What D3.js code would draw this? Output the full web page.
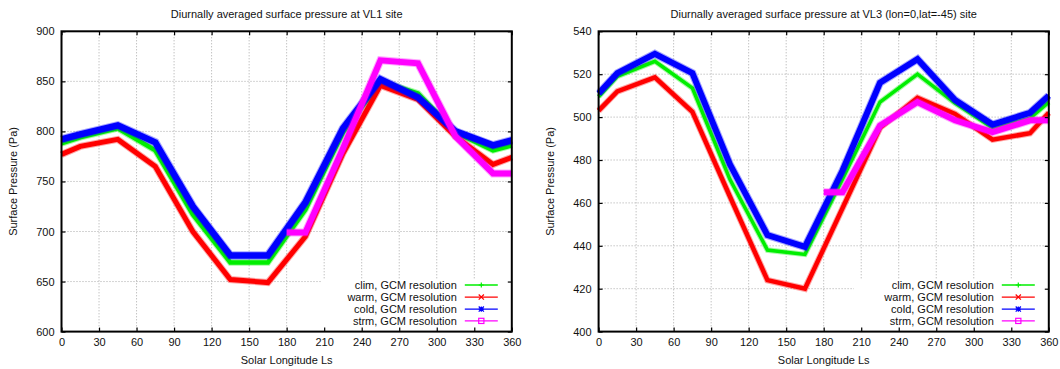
<!DOCTYPE html>
<html>
<head>
<meta charset="utf-8">
<script src="https://cdn.jsdelivr.net/npm/d3@7"></script>
<style>
  body { margin: 0; background: #fff; }
  svg { display: block; }
  text { font-family: "Liberation Sans", Arial, sans-serif; font-size: 11px; fill: #111; }
</style>
</head>
<body>
<div id="chart"></div>
<script>
// Diurnally averaged surface pressure, two Viking lander sites

////////////////////////////////////////////////////////////////////////////////
// Data
const ls = [0, 15, 45, 75, 105, 135, 165, 195, 225, 255, 285, 315, 345, 360];
const strmLs = [180, 195, 225, 255, 285, 315, 345, 360];

const vl1Clim = [788, 794, 803, 781, 717, 669, 669, 722, 799, 850, 838, 799, 781, 786];
const vl1Warm = [777, 785, 792, 765, 700, 652, 649, 695, 778, 846, 832, 795, 767, 774];
const vl1Cold = [792, 797, 806, 789, 725, 676, 676, 729, 803, 852, 834, 800, 786, 791];
const vl1Strm = [699, 699, 783, 871, 868, 795, 758, 758];

const vl3Clim = [509.5, 519, 526, 513.5, 471, 438, 436, 471, 507, 520, 506.5, 495, 499.5, 507];
const vl3Warm = [503, 512, 518.5, 502.5, 463, 424, 420, 457.5, 495, 509, 501.5, 489.5, 492.5, 502];
const vl3Cold = [511, 520.5, 529.5, 520.5, 478, 445, 439.5, 475, 516, 527, 508, 496.5, 502, 510];
const vl3Strm = [465, 465, 496, 507, 498.5, 493, 498.5, 498.5];

const xTicks = d3.range(0, 361, 30);
const vl1Ticks = d3.range(600, 901, 50);
const vl3Ticks = d3.range(400, 541, 20);

const seriesNames = ['clim, GCM resolution', 'warm, GCM resolution', 'cold, GCM resolution', 'strm, GCM resolution'];
const seriesColors = ['#00ee00', '#ff0000', '#0000ff', '#ff00ff'];
const seriesWidths = [[4.5, 5, 6.5, 6], [3.5, 4.5, 6, 6]];

////////////////////////////////////////////////////////////////////////////////
// Setup
const W = 1060, H = 369;
const plotTop = 31.3, plotBottom = 331.6;

const svg = d3.select('#chart').append('svg')
  .attr('width', W)
  .attr('height', H);

const panels = [
  {
    left: 61.5, right: 511.8,
    title: 'Diurnally averaged surface pressure at VL1 site',
    yDomain: [600, 900], yTicks: vl1Ticks,
    series: [vl1Clim, vl1Warm, vl1Cold, vl1Strm],
    gridCut: 322,
  },
  {
    left: 598.6, right: 1048.8,
    title: 'Diurnally averaged surface pressure at VL3 (lon=0,lat=-45) site',
    yDomain: [400, 540], yTicks: vl3Ticks,
    series: [vl3Clim, vl3Warm, vl3Cold, vl3Strm],
    gridCut: 854,
  },
];

panels.forEach((p, pi) => drawPanel(p, pi));

function drawPanel (p, pi) {
  const width = p.right - p.left;
  const height = plotBottom - plotTop;
  const frame = svg.append('g')
    .attr('transform', `translate(${p.left} ${plotTop})`);

  const x = d3.scaleLinear().domain([0, 360]).range([0, width]);
  const y = d3.scaleLinear().domain(p.yDomain).range([height, 0]);

  // Grid
  const grid = frame.append('g')
    .attr('stroke', '#a8a8a8')
    .attr('stroke-width', 1)
    .attr('stroke-dasharray', '1,2');
  grid.selectAll('.vg')
    .data(xTicks.slice(1, -1))
    .enter().append('line')
    .attr('x1', d => x(d)).attr('x2', d => x(d))
    .attr('y1', 0).attr('y2', height);
  grid.selectAll('.hg')
    .data(p.yTicks.slice(1, -1))
    .enter().append('line')
    .attr('x1', 0).attr('x2', width)
    .attr('y1', d => y(d)).attr('y2', d => y(d));

  // key area clears the grid
  const keyLeft = p.gridCut - p.left;
  const keyTop = 279 - plotTop;
  frame.append('rect')
    .attr('x', keyLeft)
    .attr('y', keyTop)
    .attr('width', width - keyLeft)
    .attr('height', height - keyTop)
    .attr('fill', '#fff');

  // Clip
  const clipId = 'clip' + pi;
  frame.append('clipPath').attr('id', clipId)
    .append('rect')
    .attr('x', -2).attr('y', -2)
    .attr('width', width + 4).attr('height', height + 4);

  // Series
  const line = d3.line()
    .x(d => x(d[0]))
    .y(d => y(d[1]));

  const lines = frame.append('g').attr('clip-path', `url(#${clipId})`);
  p.series.forEach((vals, i) => {
    const xs = i === 3 ? strmLs : ls;
    const pts = vals.map((v, k) => [xs[k], v]);
    const w = seriesWidths[pi][i];
    lines.append('path')
      .attr('d', line(pts))
      .attr('fill', 'none')
      .attr('stroke', seriesColors[i])
      .attr('stroke-opacity', 0.35)
      .attr('stroke-width', w + 2)
      .attr('stroke-linejoin', 'miter');
    lines.append('path')
      .attr('d', line(pts))
      .attr('fill', 'none')
      .attr('stroke', seriesColors[i])
      .attr('stroke-width', w)
      .attr('stroke-linejoin', 'miter');
  });

  // Axes, ticks point inwards on all four sides
  frame.append('g')
    .attr('transform', `translate(0 ${height})`)
    .call(d3.axisBottom(x).tickValues(xTicks).tickSize(-4).tickPadding(7));
  frame.append('g')
    .call(d3.axisTop(x).tickValues(xTicks).tickSize(-4).tickFormat(''));
  frame.append('g')
    .call(d3.axisLeft(y).tickValues(p.yTicks).tickSize(-4).tickPadding(7));
  frame.append('g')
    .attr('transform', `translate(${width} 0)`)
    .call(d3.axisRight(y).tickValues(p.yTicks).tickSize(-4).tickFormat(''));

  frame.selectAll('.domain').remove();
  frame.selectAll('.tick line').attr('stroke', '#000').attr('stroke-width', 1.2);
  frame.selectAll('.tick text')
    .attr('font-family', '"Liberation Sans", Arial, sans-serif')
    .attr('font-size', 11)
    .attr('fill', '#111');

  frame.append('rect')
    .attr('width', width)
    .attr('height', height)
    .attr('fill', 'none')
    .attr('stroke', '#000')
    .attr('stroke-width', 2);

  // Labels
  frame.append('text')
    .attr('text-anchor', 'middle')
    .attr('x', width / 2)
    .attr('y', 18 - plotTop)
    .text(p.title);

  frame.append('text')
    .attr('text-anchor', 'middle')
    .attr('x', width / 2)
    .attr('y', 364.5 - plotTop)
    .text('Solar Longitude Ls');

  frame.append('text')
    .attr('text-anchor', 'middle')
    .attr('transform', `translate(${-48} ${height / 2}) rotate(-90)`)
    .attr('dy', '0.35em')
    .text('Surface Pressure (Pa)');

  // Key
  const rowY = [285, 297.1, 309.1, 320.9];
  seriesNames.forEach((name, i) => {
    const cy = rowY[i] - plotTop;
    frame.append('text')
      .attr('text-anchor', 'end')
      .attr('x', width - 55)
      .attr('y', cy + 4)
      .text(name);
    const x1 = width - 47, x2 = width - 14, mx = (x1 + x2) / 2;
    frame.append('line')
      .attr('x1', x1).attr('x2', x2)
      .attr('y1', cy).attr('y2', cy)
      .attr('stroke', seriesColors[i])
      .attr('stroke-width', 1.3);
    drawMarker(frame, i, mx, cy, seriesColors[i]);
  });
}

function drawMarker (g, i, cx, cy, color) {
  const s = 2.6;
  const m = g.append('g').attr('stroke', color).attr('stroke-width', 1.2).attr('fill', 'none');
  if (i === 0) {
    m.append('path').attr('d', `M${cx - s},${cy}H${cx + s}M${cx},${cy - s}V${cy + s}`);
  } else if (i === 1) {
    m.append('path').attr('d', `M${cx - s},${cy - s}L${cx + s},${cy + s}M${cx - s},${cy + s}L${cx + s},${cy - s}`);
  } else if (i === 2) {
    m.append('path').attr('d', `M${cx - s},${cy}H${cx + s}M${cx},${cy - s}V${cy + s}M${cx - s},${cy - s}L${cx + s},${cy + s}M${cx - s},${cy + s}L${cx + s},${cy - s}`);
  } else {
    m.append('rect').attr('x', cx - s).attr('y', cy - s).attr('width', 2 * s).attr('height', 2 * s);
  }
}
</script>
</body>
</html>
